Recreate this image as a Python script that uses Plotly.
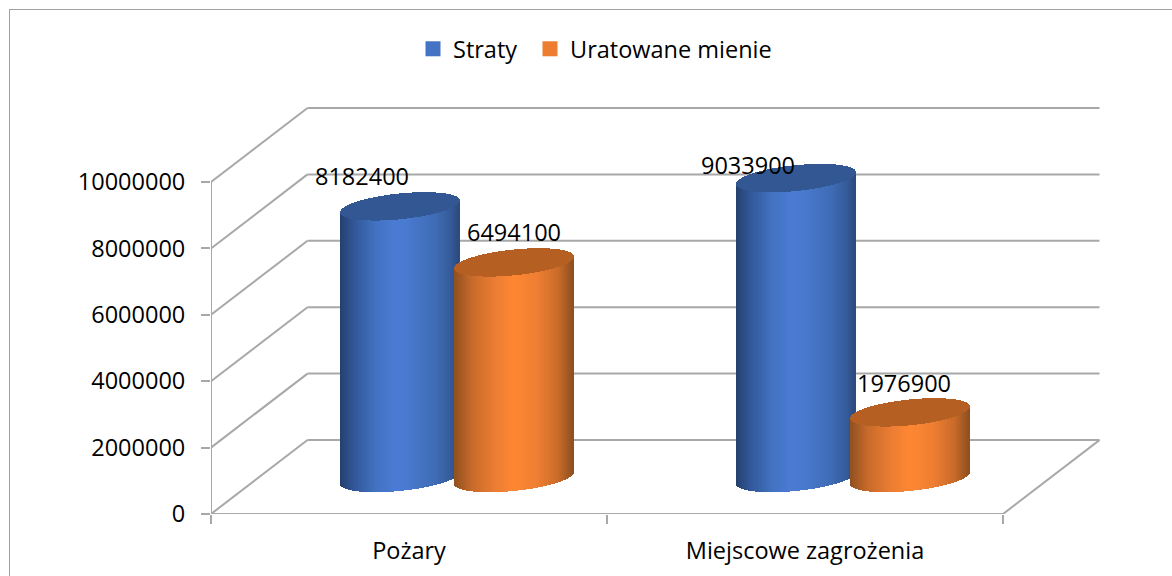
import math
import plotly.graph_objects as go

categories = ["Pożary", "Miejscowe zagrożenia"]
series_names = ["Straty", "Uratowane mienie"]
straty = [8182400, 9033900]
uratowane = [6494100, 1976900]
y_ticks = [0, 2000000, 4000000, 6000000, 8000000, 10000000]

# label nudges in pixels (dx, dy up)
label_shift = {0: [(-38.5, 30), (-0.5, 30)], 1: [(-49, 13), (-6.5, 29)]}

W, H = 1172, 576
ML, MB, MT, MR = 211, 62, 100, 72
PW, PH = W - ML - MR, H - MB - MT
PXX = 396.0            # pixels per category
PXY = 33.2e-6          # pixels per value unit
DX_PX, DY_PX, BASE_PX = 96.5, 74.0, 36.0
DX, DY = DX_PX / PXX, DY_PX / PXY
XMAX = PW / PXX
YMAX = PH / PXY
FONT = "Open Sans"
FS = 23.5
GRID = "#a8a8a8"

BLUE = [(-1, "#25406e"), (-.75, "#32589a"), (-.4, "#4272c0"), (-.1, "#4a7ad2"),
        (.1, "#4a7ad0"), (.6, "#3f6cb5"), (.85, "#355c9b"), (1, "#2b4a7c")]
ORANGE = [(-1, "#8f5020"), (-.7, "#c86a2a"), (-.3, "#ec7d33"), (0, "#ff8733"),
          (.4, "#ee7e32"), (.75, "#c96b2a"), (1, "#8e4f1f")]
TOPS = ["#335793", "#b55f23"]
SWATCH = ["#4472c4", "#ed7d31"]


def mix(stops, u):
    for (u0, c0), (u1, c1) in zip(stops, stops[1:]):
        if u <= u1:
            t = (u - u0) / (u1 - u0)
            a = [int(c0[i:i + 2], 16) for i in (1, 3, 5)]
            b = [int(c1[i:i + 2], 16) for i in (1, 3, 5)]
            return "rgb(%d,%d,%d)" % tuple(round(p + (q - p) * t) for p, q in zip(a, b))
    return stops[-1][1]


fig = go.Figure()
N, R_PX, B_PX, S_PX, OFF_PX = 119, 59.5, 12.9, 5.9, 56.75


def cylinder(group, s, value):
    cx = group + 0.5 + DX / 2 + (-1 if s == 0 else 1) * OFF_PX / PXX
    us = [(i + .5) / N * 2 - 1 for i in range(N)]
    xs = [cx + u * R_PX / PXX for u in us]
    w = [2 * R_PX / PXX / N * 1.25] * N
    arc = [B_PX * math.sqrt(1 - u * u) / PXY for u in us]
    shear = [S_PX * u / PXY for u in us]
    stops = BLUE if s == 0 else ORANGE
    base = [BASE_PX / PXY + sh - a for sh, a in zip(shear, arc)]
    fig.add_bar(x=xs, y=[value] * N, base=base, width=w, showlegend=False, hoverinfo="skip",
                marker=dict(color=[mix(stops, u) for u in us], line_width=0))
    fig.add_bar(x=xs, y=[2 * a for a in arc], base=[value + b for b in base], width=w,
                showlegend=False, hoverinfo="skip", marker=dict(color=TOPS[s], line_width=0))


for g in range(2):
    cylinder(g, 0, straty[g])
    cylinder(g, 1, uratowane[g])

for s, name in enumerate(series_names):
    fig.add_scatter(x=[-9], y=[-9], mode="markers", name=name, hoverinfo="skip",
                    legend="legend" if s == 0 else "legend2",
                    marker=dict(symbol="square", size=15, color=SWATCH[s], line_width=0))

shapes = []


def seg(x0, y0, x1, y1, width=2):
    shapes.append(dict(type="line", xref="x", yref="y", x0=x0, y0=y0, x1=x1, y1=y1,
                       layer="below", line=dict(color=GRID, width=width)))


seg(0, 0, 0, y_ticks[-1])
seg(0, 0, 2, 0)
seg(2, 0, 2 + DX, DY)
for v in y_ticks:
    seg(0, v, DX, v + DY)
    seg(DX, v + DY, 2 + DX, v + DY)

# outer frame: left and top edges only
px = lambda p: (p - ML) / PW
py = lambda p: (H - MB - p) / PH
FRAME = dict(color="#a0a0a0", width=1)
shapes.append(dict(type="line", xref="paper", yref="paper", x0=px(9.5), x1=px(9.5),
                   y0=py(9.5), y1=py(H), line=FRAME))
shapes.append(dict(type="line", xref="paper", yref="paper", x0=px(9), x1=px(W),
                   y0=py(9.5), y1=py(9.5), line=FRAME))

annotations = []
for g in range(2):
    for s, vals in enumerate((straty, uratowane)):
        sx, sy = label_shift[g][s]
        cx = g + 0.5 + DX / 2 + (-1 if s == 0 else 1) * OFF_PX / PXX
        annotations.append(dict(x=cx, y=vals[g] + BASE_PX / PXY, xref="x", yref="y", text=str(vals[g]),
                                showarrow=False, xshift=sx, yshift=sy,
                                font=dict(family=FONT, size=FS, color="#000000")))

LEG = dict(orientation="h", xanchor="left", y=py(49), yanchor="middle",
           font=dict(family=FONT, size=FS), bgcolor="rgba(0,0,0,0)",
           itemclick=False, itemdoubleclick=False)
fig.update_layout(
    width=W, height=H, margin=dict(l=ML, r=MR, t=MT, b=MB, pad=0), autosize=False,
    paper_bgcolor="white", plot_bgcolor="rgba(0,0,0,0)", barmode="overlay", bargap=0,
    shapes=shapes, annotations=annotations, font=dict(family=FONT, size=FS, color="#000000"),
    showlegend=True,
    legend=dict(x=px(413), **LEG),
    legend2=dict(x=px(530), **LEG),
    xaxis=dict(range=[0, XMAX], tickmode="array", tickvals=[0.5, 1.5], ticktext=categories,
               ticks="", showgrid=False, zeroline=False, showline=False, ticklabelstandoff=20,
               automargin=False,
               minor=dict(tick0=0, dtick=1, ticks="outside", ticklen=9, tickwidth=2, tickcolor=GRID, showgrid=False),
               tickfont=dict(family=FONT, size=FS)),
    yaxis=dict(range=[0, YMAX], tickmode="array", tickvals=y_ticks, ticktext=[str(v) for v in y_ticks],
               ticks="outside", ticklen=9, tickwidth=2, tickcolor=GRID, showgrid=False, zeroline=False,
               showline=False, ticklabelstandoff=11, automargin=False, tickfont=dict(family=FONT, size=FS)),
)
fig.write_html("out.html", post_script="document.body.style.margin='0';", config=dict(displayModeBar=False))
